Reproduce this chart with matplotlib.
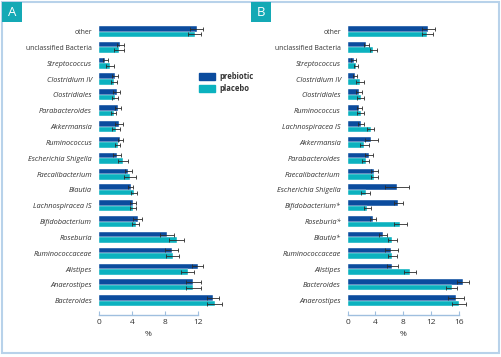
import matplotlib.pyplot as plt
import matplotlib.patches as mpatches
import numpy as np

plt.rcParams["font.family"] = ["Open Sans", "DejaVu Sans"]

PREBIOTIC_COLOR = "#0b4c9e"
PLACEBO_COLOR = "#0bb2bf"
FRAME_COLOR = "#b8d2ea"
AXIS_COLOR = "#9fbfdf"
TEXT_COLOR = "#333333"

# Panel A
a_labels = [
    "other", "unclassified Bacteria", "Streptococcus", "Clostridium IV",
    "Clostridiales", "Parabacteroides", "Akkermansia", "Ruminococcus",
    "Escherichia Shigella", "Faecalibacterium", "Blautia", "Lachnospiracea IS",
    "Bifidobacterium", "Roseburia", "Ruminococcaceae", "Alistipes",
    "Anaerostipes", "Bacteroides",
]
a_prebiotic = [11.85, 2.6, 0.75, 1.95, 2.15, 2.35, 2.45, 2.6, 2.2, 3.55,
               3.85, 4.1, 4.7, 8.3, 8.8, 11.95, 11.45, 13.85]
a_prebiotic_err = [0.8, 0.45, 0.3, 0.4, 0.4, 0.35, 0.5, 0.3, 0.45, 0.4,
                   0.3, 0.35, 0.55, 0.85, 0.8, 0.7, 0.9, 0.75]
a_placebo = [11.6, 2.4, 1.35, 1.8, 1.95, 1.8, 2.05, 2.25, 2.95, 3.75,
             4.25, 4.1, 4.45, 9.4, 8.95, 10.75, 11.45, 14.0]
a_placebo_err = [0.8, 0.6, 0.5, 0.4, 0.4, 0.3, 0.5, 0.35, 0.6, 0.7,
                 0.4, 0.4, 0.45, 0.95, 0.8, 0.8, 0.9, 0.95]

# Panel B
b_labels = [
    "other", "unclassified Bacteria", "Streptococcus", "Clostridium IV",
    "Clostridiales", "Ruminococcus", "Lachnospiracea IS", "Akkermansia",
    "Parabacteroides", "Faecalibacterium", "Escherichia Shigella",
    "Bifidobacterium*", "Roseburia*", "Blautia*", "Ruminococcaceae",
    "Alistipes", "Bacteroides", "Anaerostipes",
]
b_prebiotic = [11.6, 2.7, 0.85, 1.05, 1.65, 1.65, 1.9, 3.4, 3.1, 3.85,
               7.1, 7.3, 3.65, 5.05, 6.3, 6.45, 16.6, 15.55]
b_prebiotic_err = [0.95, 0.4, 0.35, 0.35, 0.45, 0.35, 0.45, 0.95, 0.55, 0.55,
                   1.7, 0.7, 0.45, 0.55, 0.95, 0.85, 0.8, 1.15]
b_placebo = [11.45, 3.7, 1.2, 1.75, 1.85, 1.85, 3.3, 2.4, 2.6, 3.85,
             2.6, 2.85, 7.6, 6.45, 6.45, 8.95, 14.95, 16.0]
b_placebo_err = [0.8, 0.5, 0.35, 0.6, 0.5, 0.45, 0.55, 0.7, 0.5, 0.55,
                 0.65, 0.55, 0.95, 0.6, 0.65, 0.9, 0.8, 1.0]

a_ticks = [0, 4, 8, 12]
b_ticks = [0, 4, 8, 12, 16]

NON_ITALIC = {"other", "unclassified Bacteria"}


def draw_panel(ax, labels, pre, pre_err, plc, plc_err, ticks, xmax):
    y = np.arange(len(labels))
    h = 0.35
    err_kw = dict(ecolor="#2b2b2b", elinewidth=0.6, capsize=1.6, capthick=0.6)
    ax.barh(y - h / 2, pre, height=h, color=PREBIOTIC_COLOR,
            edgecolor="white", linewidth=0.3, xerr=pre_err, error_kw=err_kw)
    ax.barh(y + h / 2, plc, height=h, color=PLACEBO_COLOR,
            edgecolor="white", linewidth=0.3, xerr=plc_err, error_kw=err_kw)

    ax.set_yticks(y)
    ax.set_yticklabels(labels, fontsize=5.3, color=TEXT_COLOR)
    for lab in ax.get_yticklabels():
        if lab.get_text() in NON_ITALIC:
            lab.set_fontsize(4.95)
        else:
            lab.set_fontstyle("italic")
    ax.tick_params(axis="y", length=0, pad=5)

    ax.set_xlim(0, xmax)
    ax.set_ylim(len(labels) - 0.1, -0.6)
    ax.set_xticks(ticks)
    ax.set_xticklabels([str(t) for t in ticks], fontsize=6, color=TEXT_COLOR)
    ax.tick_params(axis="x", direction="in", length=3, width=0.8,
                   color=AXIS_COLOR, pad=3)
    ax.set_xlabel("%", fontsize=6, color=TEXT_COLOR)
    ax.xaxis.set_label_coords(ticks[-1] / 2 / xmax, -0.055)

    for side in ["top", "right", "left"]:
        ax.spines[side].set_visible(False)
    ax.spines["bottom"].set_color(AXIS_COLOR)
    ax.spines["bottom"].set_linewidth(1.0)
    ax.spines["bottom"].set_bounds(ticks[0], ticks[-1])
    ax.set_facecolor("none")


fig = plt.figure(figsize=(5.02, 3.57), dpi=100)

ax_a = fig.add_axes([99 / 502, 42 / 357, 132 / 502, 293 / 357])
draw_panel(ax_a, a_labels, a_prebiotic, a_prebiotic_err,
           a_placebo, a_placebo_err, a_ticks, 16)

ax_b = fig.add_axes([347.7 / 502, 42 / 357, 125 / 502, 293 / 357])
draw_panel(ax_b, b_labels, b_prebiotic, b_prebiotic_err,
           b_placebo, b_placebo_err, b_ticks, 18)

# legend in panel A
handles = [
    mpatches.Patch(color=PREBIOTIC_COLOR, label="prebiotic"),
    mpatches.Patch(color=PLACEBO_COLOR, label="placebo"),
]
leg = fig.legend(handles=handles, loc="upper left",
                 bbox_to_anchor=(196 / 502, 1 - 69 / 357), frameon=False,
                 fontsize=5.5, handlelength=2.1, handleheight=1.0,
                 handletextpad=0.5, labelspacing=0.35, borderaxespad=0)
for t in leg.get_texts():
    t.set_fontweight("bold")
    t.set_color(TEXT_COLOR)

# outer frame
frame = mpatches.Rectangle((2.5 / 502, 4 / 357), 496.5 / 502, 351 / 357,
                           transform=fig.transFigure, fill=False,
                           edgecolor=FRAME_COLOR, linewidth=1.5)
fig.add_artist(frame)

# panel letters
for x0, letter in [(2 / 502, "A"), (251 / 502, "B")]:
    sq = mpatches.Rectangle((x0, 1 - 22 / 357), 20 / 502, 20 / 357,
                            transform=fig.transFigure, facecolor="#14a9b5",
                            edgecolor="none")
    fig.add_artist(sq)
    fig.text(x0 + 10 / 502, 1 - 12 / 357, letter, color="white",
             fontsize=9.5, ha="center", va="center")

fig.savefig("out.png", dpi=100)
